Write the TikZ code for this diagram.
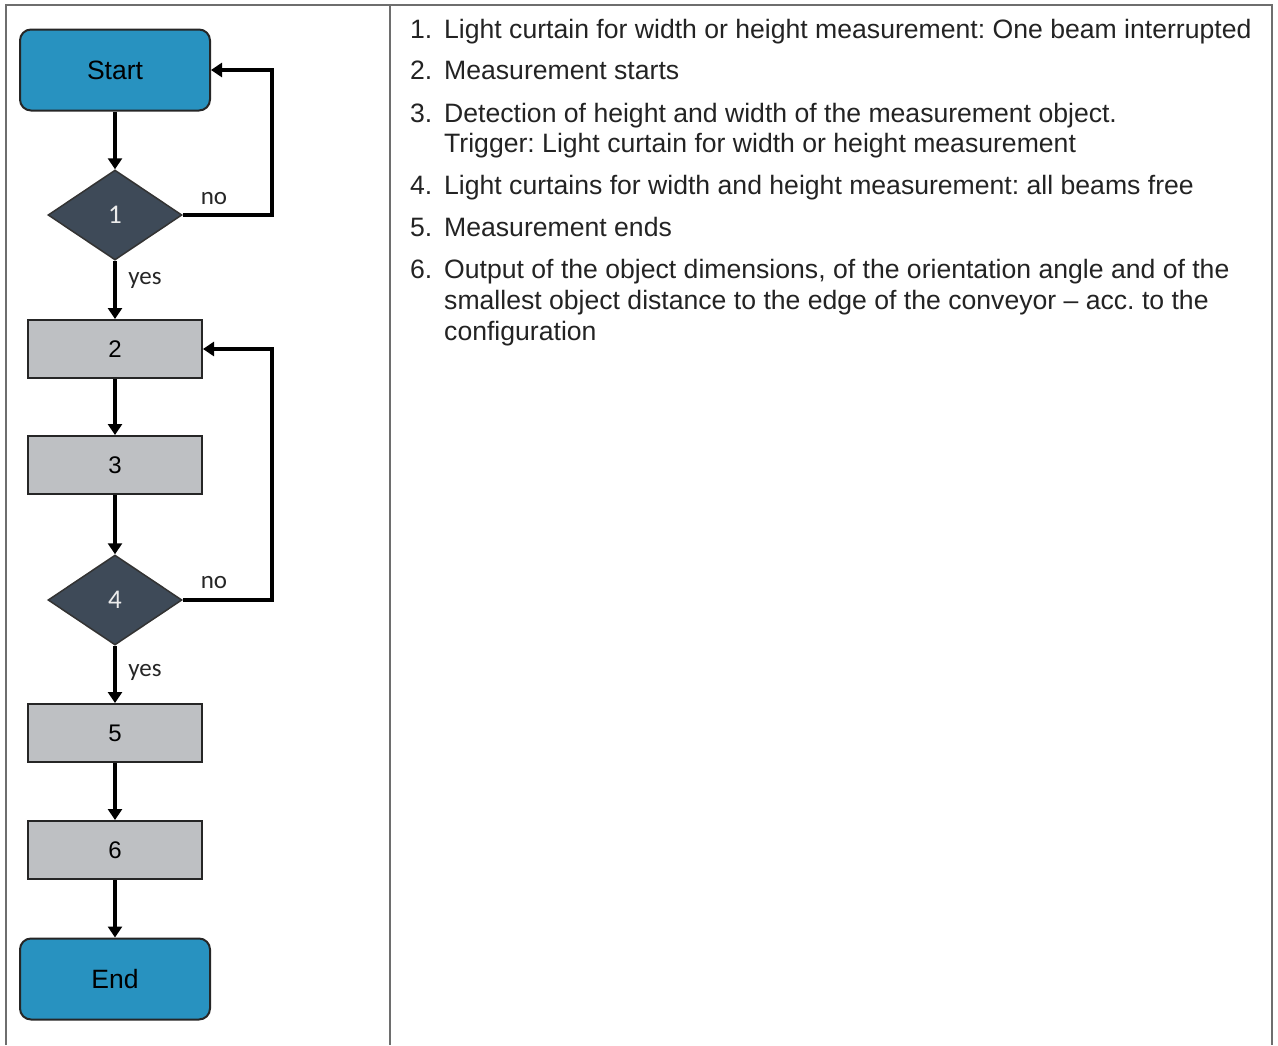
\documentclass[tikz,border=0pt]{standalone}
\usepackage{fontspec}
\setmainfont{Liberation Sans}
\newfontfamily\calib{Carlito}
\usetikzlibrary{shapes.geometric,arrows.meta}
\definecolor{termblue}{RGB}{40,146,192}
\definecolor{decdark}{RGB}{62,74,88}
\definecolor{procgray}{RGB}{190,192,195}
\definecolor{frame}{RGB}{110,110,110}
\definecolor{txt}{RGB}{35,35,35}
\tikzset{
  term/.style={draw=black!85,line width=2pt,fill=termblue,rounded corners=11pt,minimum width=190pt,minimum height=81pt,inner sep=0pt,font=\fontsize{26.5}{28}\selectfont},
  proc/.style={draw=black!85,line width=2pt,fill=procgray,minimum width=174pt,minimum height=58pt,inner sep=0pt,font=\fontsize{24}{26}\selectfont},
  dec/.style={draw=black!80,line width=1.5pt,fill=decdark,shape=diamond,minimum width=134pt,minimum height=90pt,inner sep=0pt,text=white!85!gray,font=\calib\fontsize{27}{28}\selectfont},
  flow/.style={line width=3.5pt,-{Triangle[width=14pt,length=11pt]}},
  lab/.style={font=\calib\fontsize{25}{28}\selectfont,text=black!85},
  itemtxt/.style={anchor=base west,inner sep=0pt,font=\fontsize{26.6}{30}\selectfont,text=txt},
}
\begin{document}
\frenchspacing
\begin{tikzpicture}[x=1pt,y=-1pt]
\useasboundingbox (0,0) rectangle (1278,1045);
% frame
\draw[frame,line width=1.8pt] (6,1045) -- (6,5) -- (1272,5) -- (1272,1045);
\draw[frame,line width=1.8pt] (390,5) -- (390,1045);
% flowchart
\node[term] (start) at (115,70) {Start};
\node[dec] (d1) at (115,215) {1};
\node[proc] (p2) at (115,349) {2};
\node[proc] (p3) at (115,465) {3};
\node[dec] (d4) at (115,600) {4};
\node[proc] (p5) at (115,733) {5};
\node[proc] (p6) at (115,850) {6};
\node[term] (end) at (115,979) {End};
\coordinate (c1) at (272,215);
\coordinate (c2) at (272,70);
\coordinate (c4) at (272,600);
\coordinate (c5) at (272,349);
\draw[flow] (start) -- (d1);
\draw[flow] (d1) -- (p2);
\draw[flow] (p2) -- (p3);
\draw[flow] (p3) -- (d4);
\draw[flow] (d4) -- (p5);
\draw[flow] (p5) -- (p6);
\draw[flow] (p6) -- (end);
\draw[flow] (d1.east) -- (c1) -- (c2) -- (start.east);
\draw[flow] (d4.east) -- (c4) -- (c5) -- (p2.east);
\node[lab] (no1) at (214,199) {no};
\node[lab] (yes1) at (145,280) {yes};
\node[lab] (no4) at (214,583) {no};
\node[lab] (yes4) at (145,672) {yes};
% list
\node[itemtxt] (n1) at (410,38) {1.};
\node[itemtxt] (t1) at (444,38) {Light curtain for width or height measurement: One beam interrupted};
\node[itemtxt] (n2) at (410,79) {2.};
\node[itemtxt] (t2) at (444,79) {Measurement starts};
\node[itemtxt] (n3) at (410,122) {3.};
\node[itemtxt] (t3a) at (444,122) {Detection of height and width of the measurement object.};
\node[itemtxt] (t3b) at (444,152) {Trigger: Light curtain for width or height measurement};
\node[itemtxt] (n4) at (410,194) {4.};
\node[itemtxt] (t4) at (444,194) {Light curtains for width and height measurement: all beams free};
\node[itemtxt] (n5) at (410,236) {5.};
\node[itemtxt] (t5) at (444,236) {Measurement ends};
\node[itemtxt] (n6) at (410,278) {6.};
\node[itemtxt] (t6a) at (444,278) {Output of the object dimensions, of the orientation angle and of the};
\node[itemtxt] (t6b) at (444,309) {smallest object distance to the edge of the conveyor -- acc. to the};
\node[itemtxt] (t6c) at (444,340) {configuration};
\end{tikzpicture}
\end{document}
